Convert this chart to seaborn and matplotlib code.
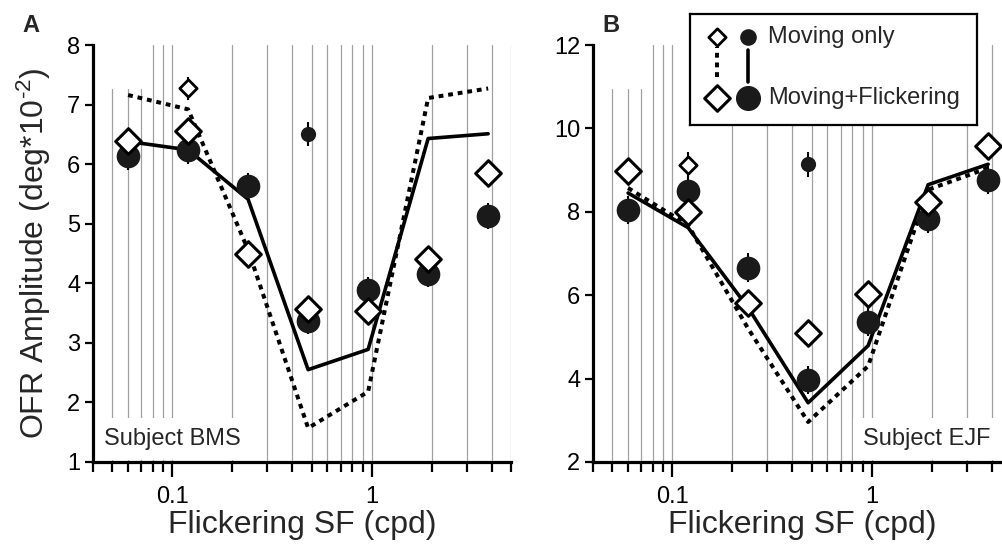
import pandas as pd
import seaborn as sns
import matplotlib.pyplot as plt

# spatial frequencies (cpd)
sf = [0.06, 0.12, 0.24, 0.48, 0.96, 1.92, 3.84]

# subject BMS (panel A)
bms_dot = [6.13, 6.23, 5.63, 3.37, 3.89, 4.16, 5.13]
bms_dot_err = [0.22, 0.22, 0.22, 0.22, 0.22, 0.22, 0.22]
bms_diamond = [6.39, 6.56, 4.50, 3.57, 3.53, 4.40, 5.85]
bms_solid = [6.38, 6.24, 5.41, 2.55, 2.89, 6.43, 6.51]
bms_dotted = [7.16, 6.92, 4.56, 1.57, 2.18, 7.11, 7.27]
bms_only_diamond = [7.27]
bms_only_dot = [6.51]
bms_only_err = [0.2]

# subject EJF (panel B)
ejf_dot = [8.05, 8.51, 6.66, 3.96, 5.35, 7.82, 8.77]
ejf_dot_err = [0.34, 0.34, 0.34, 0.34, 0.34, 0.34, 0.34]
ejf_diamond = [8.97, 8.00, 5.81, 5.10, 6.04, 8.24, 9.57]
ejf_solid = [8.45, 7.62, 5.70, 3.42, 4.79, 8.65, 9.14]
ejf_dotted = [8.57, 7.68, 5.20, 2.96, 4.30, 8.53, 9.05]
ejf_only_diamond = [9.13]
ejf_only_dot = [9.14]
ejf_only_err = [0.3]

# moving-only conditions were measured at one SF each
only_diamond_sf = [0.12]
only_dot_sf = [0.48]

grid_sf = [0.05, 0.06, 0.07, 0.08, 0.09, 0.1, 0.2, 0.3, 0.4, 0.5, 0.6, 0.7,
           0.8, 0.9, 1, 2, 3, 4, 5]
minor_sf = [0.04, 0.05, 0.06, 0.07, 0.08, 0.09, 0.2, 0.3, 0.4, 0.5, 0.6, 0.7,
            0.8, 0.9, 2, 3, 4, 5]

sns.set_style("ticks")
plt.rcParams['font.family'] = ['Liberation Sans', 'DejaVu Sans']
plt.rcParams['mathtext.fontset'] = 'custom'
plt.rcParams['mathtext.rm'] = 'Liberation Sans'

fig = plt.figure(figsize=(10.02, 5.53), dpi=100)
axA = fig.add_axes([93 / 1002, 91 / 553, 418 / 1002, 417 / 553])
axB = fig.add_axes([593 / 1002, 91 / 553, 418 / 1002, 417 / 553])


def panel(ax, dot, dot_err, diamond, solid, dotted, o_diamond, o_dot, o_err,
          ylim, yticks, subject, right):
    ax.set_xscale('log')
    for g in grid_sf:
        top = 0.894 if g < 0.075 else 1
        ax.axvline(g, ymax=top, color='#a0a0a0', lw=0.9, zorder=0.5)

    df = pd.DataFrame({'sf': sf, 'dot': dot, 'diamond': diamond,
                       'solid': solid, 'dotted': dotted})
    sns.lineplot(data=df, x='sf', y='dotted', ax=ax, color='black', lw=2.9,
                 linestyle=(0, (1.2, 1.2)), zorder=2)
    sns.lineplot(data=df, x='sf', y='solid', ax=ax, color='black', lw=2.6,
                 zorder=2.1)

    ax.errorbar(sf, dot, yerr=dot_err, fmt='none', ecolor='black',
                elinewidth=1.5, zorder=2.5)
    ax.errorbar(only_diamond_sf, o_diamond, yerr=o_err, fmt='none',
                ecolor='black', elinewidth=1.5, zorder=2.5)
    ax.errorbar(only_dot_sf, o_dot, yerr=o_err, fmt='none', ecolor='black',
                elinewidth=1.5, zorder=2.5)

    sns.scatterplot(data=df, x='sf', y='dot', ax=ax, marker='o', s=290,
                    color='#1a1a1a', linewidth=0, zorder=3)
    sns.scatterplot(data=df, x='sf', y='diamond', ax=ax, marker='D', s=170,
                    color='white', edgecolor='black', linewidth=2.2, zorder=3.1)
    sns.scatterplot(x=only_diamond_sf, y=o_diamond, ax=ax, marker='D', s=78,
                    color='white', edgecolor='black', linewidth=2.0, zorder=3.1)
    sns.scatterplot(x=only_dot_sf, y=o_dot, ax=ax, marker='o', s=120,
                    color='#1a1a1a', linewidth=0, zorder=3)

    ax.set_xlim(0.04, 5)
    ax.set_ylim(*ylim)
    ax.set_yticks(yticks)
    ax.set_yticklabels([str(t) for t in yticks])
    ax.set_xticks([0.1, 1])
    ax.set_xticklabels(['0.1', '1'])
    ax.set_xticks(minor_sf, minor=True)
    ax.set_xticklabels([], minor=True)
    ax.tick_params(axis='x', which='major', length=11, width=1.6, pad=6,
                   labelsize=17, direction='out', colors='black')
    ax.tick_params(axis='x', which='minor', length=7, width=1.6,
                   direction='out', colors='black')
    ax.tick_params(axis='y', length=6, width=1.6, pad=3, labelsize=17,
                   direction='out', colors='black')
    sns.despine(ax=ax)
    for s in ['left', 'bottom']:
        ax.spines[s].set_linewidth(2.3)
        ax.spines[s].set_color('black')
        ax.spines[s].set_zorder(5)

    ax.set_xlabel('Flickering SF (cpd)', fontsize=23, labelpad=2)
    ax.set_ylabel('')
    if right:
        ax.text(0.95, 0.041, subject, transform=ax.transAxes, fontsize=17,
                ha='right', va='baseline', zorder=1,
                bbox=dict(fc='white', ec='none', pad=7))
    else:
        ax.text(0.026, 0.041, subject, transform=ax.transAxes, fontsize=17,
                ha='left', va='baseline', zorder=1,
                bbox=dict(fc='white', ec='none', pad=7))


panel(axA, bms_dot, bms_dot_err, bms_diamond, bms_solid, bms_dotted,
      bms_only_diamond, bms_only_dot, bms_only_err,
      (1, 8), [1, 2, 3, 4, 5, 6, 7, 8], 'Subject BMS', False)
panel(axB, ejf_dot, ejf_dot_err, ejf_diamond, ejf_solid, ejf_dotted,
      ejf_only_diamond, ejf_only_dot, ejf_only_err,
      (2, 12), [2, 4, 6, 8, 10, 12], 'Subject EJF', True)

axA.set_ylabel(r'OFR Amplitude (deg*10$\mathregular{^{\text{-}2}}$)',
               fontsize=23, labelpad=10)

fig.text(22 / 1002, 1 - 32 / 553, 'A', fontsize=17, fontweight='bold')
fig.text(602 / 1002, 1 - 32 / 553, 'B', fontsize=17, fontweight='bold')

# legend box
leg = fig.add_axes([690 / 1002, 1 - 125 / 553, 287 / 1002, 111 / 553])
leg.set_xlim(0, 1)
leg.set_ylim(0, 1)
leg.set_xticks([])
leg.set_yticks([])
for s in leg.spines.values():
    s.set_linewidth(1.6)
    s.set_color('black')
leg.plot([0.093, 0.093], [0.432, 0.703], color='black', lw=2.9,
         linestyle=(0, (1.2, 1.2)))
leg.plot([0.203, 0.203], [0.387, 0.676], color='black', lw=2.6)
leg.scatter([0.093], [0.795], marker='D', s=78, c='white', edgecolors='black',
            linewidths=2.0, zorder=3)
leg.scatter([0.203], [0.795], marker='o', s=120, c='#1a1a1a', zorder=3)
leg.scatter([0.093], [0.241], marker='D', s=170, c='white', edgecolors='black',
            linewidths=2.2, zorder=3)
leg.scatter([0.203], [0.241], marker='o', s=290, c='#1a1a1a', zorder=3)
leg.text(0.272, 0.795, 'Moving only', fontsize=17, va='center')
leg.text(0.272, 0.241, 'Moving+Flickering', fontsize=17, va='center')

fig.savefig('out.png', dpi=100)
